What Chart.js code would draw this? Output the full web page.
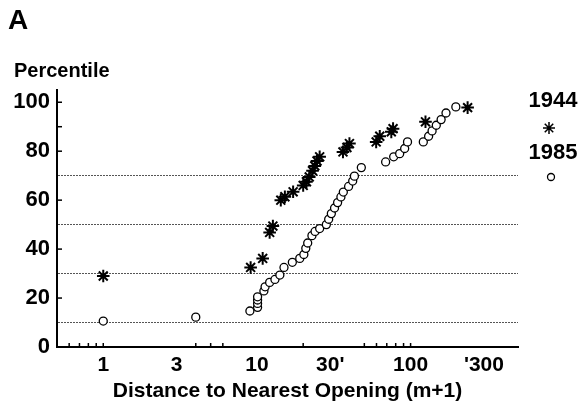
<!DOCTYPE html>
<html>
<head>
<meta charset="utf-8">
<script src="https://cdn.jsdelivr.net/npm/chart.js@4/dist/chart.umd.min.js"></script>
<style>
  html, body { margin: 0; padding: 0; background: #fff; }
  #wrap { width: 581px; height: 407px; }
</style>
</head>
<body>
<div id="wrap"><canvas id="chart" width="581" height="407"></canvas></div>
<script>
// series names
const seriesNames = ['1944', '1985']

// 1944 (asterisks): distance (m+1), percentile
const x1944 = [1.0, 9.1, 10.9, 12.1, 12.7, 14.3, 15.2, 17.2, 20.0, 21.0, 21.9, 23.0, 23.8, 24.6, 25.6, 36.3, 38.5, 40.0, 59.7, 63.0, 74.9, 76.9, 125, 235]
const y1944 = [29.0, 32.5, 36.2, 46.8, 49.4, 60.0, 61.4, 63.4, 66.0, 67.5, 69.5, 72.0, 74.0, 76.0, 77.7, 79.7, 81.5, 83.1, 83.8, 86.1, 87.9, 89.2, 92.0, 97.8]

// 1985 (circles)
const x1985 = [1.0, 4.0, 9.0, 10.1, 10.1, 10.1, 10.1, 11.1, 11.3, 12.1, 13.1, 14.1, 15.0, 17.0, 19.0, 20.2, 20.8, 21.4, 22.8, 23.9, 25.6, 28.3, 29.3, 30.5, 32.0, 33.5, 35.2, 36.5, 39.5, 42.0, 43.1, 47.8, 68.8, 77.6, 84.9, 91.5, 95.5, 121, 131, 138, 147, 158, 170, 197]
const y1985 = [10.6, 12.2, 14.7, 16.2, 17.8, 19.2, 20.5, 22.9, 24.6, 26.4, 27.6, 29.4, 32.5, 34.6, 36.2, 37.8, 40.3, 42.5, 45.5, 47.2, 48.4, 50.0, 52.2, 54.5, 56.8, 59.0, 61.3, 63.3, 65.6, 67.8, 69.8, 73.3, 75.6, 77.7, 79.0, 81.1, 83.8, 83.8, 86.1, 88.3, 90.6, 92.9, 95.6, 98.1]

// axes
const xTickValues = [1, 3, 10, 30, 100, 300]
const xTickLabels = ['1', '3', '10', "30'", '100', "'300"]
const xMinorTicks = [0.6, 0.7, 0.8, 0.9, 1, 4, 5, 6, 20, 50, 60, 70, 80, 90, 100]
const yTickValues = [0, 10, 20, 30, 40, 50, 60, 70, 80, 90, 100]
const yDottedLines = [10, 30, 50, 70]
const yMinorTicks = [20, 40, 60, 80, 90, 100]
const xTitle = 'Distance to Nearest Opening (m+1)'
const yTitle = 'Percentile'
const panelLabel = 'A'

const FONT = '"Liberation Sans", Arial, Helvetica, sans-serif'

const toPoints = (xs, ys) => xs.map((v, i) => ({ x: v, y: ys[i] }))

// extra bits: inward ticks, panel label, y title, side legend
const extras = {
  id: 'extras',
  afterDraw(chart) {
    const { ctx, scales: { x, y } } = chart
    ctx.save()
    ctx.strokeStyle = '#000'
    ctx.lineWidth = 1.5
    xMinorTicks.forEach(v => {
      const px = x.getPixelForValue(v)
      ctx.beginPath()
      ctx.moveTo(px, y.bottom)
      ctx.lineTo(px, y.bottom - 4)
      ctx.stroke()
    })
    yMinorTicks.forEach(v => {
      const py = y.getPixelForValue(v)
      ctx.beginPath()
      ctx.moveTo(x.left, py)
      ctx.lineTo(x.left + 5, py)
      ctx.stroke()
    })

    ctx.fillStyle = '#000'
    ctx.textBaseline = 'middle'
    ctx.textAlign = 'left'
    ctx.font = 'bold 28px ' + FONT
    ctx.fillText(panelLabel, 8, 21)
    ctx.font = 'bold 20px ' + FONT
    ctx.fillText(yTitle, 14, 71)

    // legend on the right
    ctx.textAlign = 'center'
    ctx.font = 'bold 22px ' + FONT
    ctx.fillText(seriesNames[0], 553, 101)
    ctx.fillText(seriesNames[1], 553, 153)
    ctx.strokeStyle = '#000'
    ctx.fillStyle = '#000'
    Chart.helpers.drawPoint(ctx, { pointStyle: 'star', radius: 6, borderWidth: 2, rotation: 0 }, 549, 128)
    ctx.fillStyle = '#fff'
    ctx.lineWidth = 1.3
    Chart.helpers.drawPoint(ctx, { pointStyle: 'circle', radius: 3.5, borderWidth: 1.3, rotation: 0 }, 551, 177)
    ctx.restore()
  }
}

new Chart(document.getElementById('chart').getContext('2d'), {
  type: 'scatter',
  data: {
    datasets: [
      {
        label: seriesNames[0],
        data: toPoints(x1944, y1944),
        pointStyle: 'star',
        pointRadius: 6.3,
        borderColor: '#000',
        backgroundColor: '#000',
        borderWidth: 2
      },
      {
        label: seriesNames[1],
        data: toPoints(x1985, y1985),
        pointStyle: 'circle',
        pointRadius: 4,
        borderColor: '#000',
        backgroundColor: '#fff',
        borderWidth: 1.3
      }
    ]
  },
  options: {
    responsive: false,
    animation: false,
    layout: { padding: { top: 90, right: 63, left: 0, bottom: 0 } },
    plugins: {
      legend: { display: false },
      tooltip: { enabled: false }
    },
    scales: {
      x: {
        type: 'logarithmic',
        min: 0.5,
        max: 500,
        afterBuildTicks: s => { s.ticks = xTickValues.map(v => ({ value: v })) },
        afterFit: s => { s.height = 60 },
        ticks: {
          autoSkip: false,
          maxRotation: 0,
          padding: 6,
          color: '#000',
          font: { family: FONT, size: 21, weight: 'bold' },
          callback: (v, i) => xTickLabels[i]
        },
        grid: { display: false, drawTicks: false },
        border: { display: true, color: '#000', width: 2 },
        title: {
          display: true,
          text: xTitle,
          color: '#000',
          font: { family: FONT, size: 21, weight: 'bold' },
          padding: { top: 0, bottom: 3 }
        }
      },
      y: {
        min: 0,
        max: 105,
        afterBuildTicks: s => { s.ticks = yTickValues.map(v => ({ value: v })) },
        afterFit: s => { s.width = 57 },
        ticks: {
          autoSkip: false,
          padding: 7,
          color: '#000',
          font: { family: FONT, size: 22, weight: 'bold' },
          callback: v => (v % 20 === 0 ? String(v) : '')
        },
        grid: {
          drawTicks: false,
          lineWidth: 1,
          color: c => (c.tick && yDottedLines.includes(c.tick.value) ? '#555' : 'rgba(0,0,0,0)')
        },
        border: { display: true, color: '#000', width: 2, dash: [2, 1] }
      }
    }
  },
  plugins: [extras]
})
</script>
</body>
</html>
